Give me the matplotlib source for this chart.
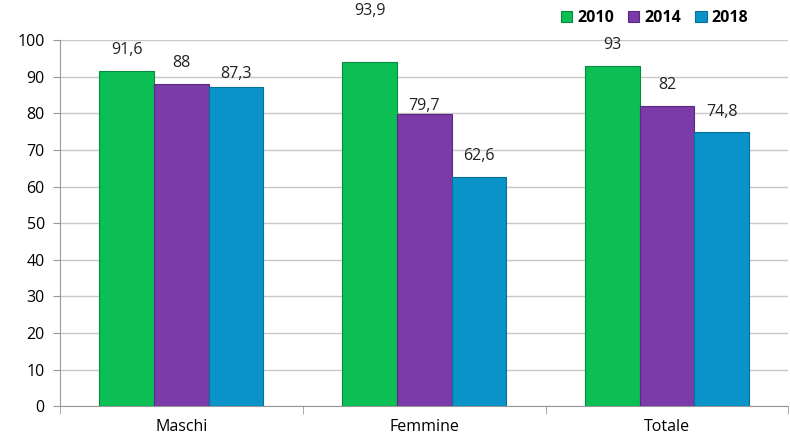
import matplotlib.pyplot as plt
import numpy as np

categories = ["Maschi", "Femmine", "Totale"]
years = ["2010", "2014", "2018"]
values_2010 = [91.6, 93.9, 93]
values_2014 = [88, 79.7, 82]
values_2018 = [87.3, 62.6, 74.8]
series = [values_2010, values_2014, values_2018]

colors = ["#0bbf55", "#7a3aa8", "#0a93c9"]
edges = ["#078a3e", "#5a2a80", "#07709a"]

plt.rcParams["font.family"] = ["Open Sans", "DejaVu Sans"]

fig = plt.figure(figsize=(7.9, 4.41), dpi=100)
ax = fig.add_axes([0.076, 0.079, 0.922, 0.830])

x = np.arange(len(categories))
bar_w = 0.225

# label offsets in points (a few labels were nudged in the original)
label_dy = {(0, 1): 37, (1, 1): 6, (2, 0): 9}

for i, (vals, c, ec) in enumerate(zip(series, colors, edges)):
    pos = x + (i - 1) * bar_w
    ax.bar(pos, vals, width=bar_w, color=c, edgecolor=ec, linewidth=0.8,
           label=years[i], zorder=3)
    for j, (px, v) in enumerate(zip(pos, vals)):
        dy = label_dy.get((i, j), 15)
        ax.annotate(f"{v:g}".replace(".", ","), (px, v), xytext=(0, dy),
                    textcoords="offset points", ha="center", va="center",
                    fontsize=11.5, color="#222222", zorder=4)

ax.set_xlim(-0.5, len(categories) - 0.5)
ax.set_ylim(0, 100)
ax.set_yticks(np.arange(0, 101, 10))
ax.yaxis.grid(True, color="#c8c8c8", linewidth=1, zorder=0)
ax.set_xticks(x)
ax.set_xticklabels(categories)
ax.set_xticks(np.arange(-0.5, len(categories), 1), minor=True)
ax.tick_params(axis="x", which="major", length=0, pad=9, labelsize=11.5)
ax.tick_params(axis="x", which="minor", length=6, color="#999999")
ax.tick_params(axis="y", length=5, color="#999999", labelsize=11.5, pad=6)

for s in ["top", "right"]:
    ax.spines[s].set_visible(False)
ax.spines["left"].set_color("#999999")
ax.spines["bottom"].set_color("#999999")

leg = fig.legend(loc="upper right", bbox_to_anchor=(0.965, 1.01), ncol=3,
                 frameon=False, handlelength=0.7, handleheight=0.7,
                 handletextpad=0.3, columnspacing=0.9,
                 prop={"weight": "bold", "size": 11.5})

fig.savefig("out.png", dpi=100)
